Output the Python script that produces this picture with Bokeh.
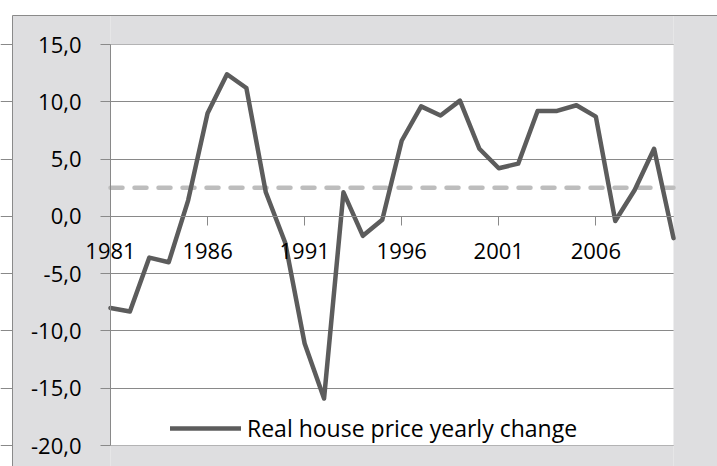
from bokeh.plotting import figure
from bokeh.models import FixedTicker, Legend, LegendItem, Range1d
from bokeh.embed import file_html
from bokeh.resources import INLINE

years = list(range(1981, 2011))
change = [-8.0, -8.3, -3.6, -4.0, 1.4, 9.0, 12.4, 11.2, 2.1, -2.3,
          -11.1, -15.9, 2.1, -1.7, -0.3, 6.6, 9.6, 8.8, 10.1, 5.9,
          4.2, 4.6, 9.2, 9.2, 9.7, 8.7, -0.4, 2.3, 5.9, -1.9]
avg_change = 2.5
series_label = "Real house price yearly change"
x_ticks = [1981, 1986, 1991, 1996, 2001, 2006]
y_ticks = [-20, -15, -10, -5, 0, 5, 10, 15]
y_labels = {v: f"{v:.1f}".replace(".", ",") for v in y_ticks}

FONT = "Open Sans"
GRAY_BG = "#DEDEE0"
GRID = "#898989"

# canvas layout (pixels): the frame fills the whole canvas
W, H = 717, 466
PL, PR, PT, PB = 110, 673, 44, 445        # plot-area edges on the canvas
BL, BT = 12, 15                           # outer chart border
x0, x1 = years[0], years[-1]
y0, y1 = y_ticks[0], y_ticks[-1]
sx = (x1 - x0) / (PR - PL)
sy = (y1 - y0) / (PB - PT)
xr = Range1d(x0 - PL * sx, x1 + (W - PR) * sx)
yr = Range1d(y0 - (H - PB) * sy, y1 + PT * sy)

p = figure(width=W, height=H, output_backend="svg", toolbar_location=None,
           x_range=xr, y_range=yr, min_border=0)
p.border_fill_color = "white"
p.background_fill_color = "white"
p.outline_line_color = None

# grey chart panel around the white plot area
bx = xr.start + BL * sx
by = yr.end - BT * sy
far_x, far_y = xr.end + 1, yr.start - 1
p.quad(left=[bx, x1, x0, x0], right=[x0, far_x, x1, x1],
       bottom=[far_y, far_y, y1, far_y], top=[by, by, by, y0],
       fill_color=GRAY_BG, line_color=None)
p.quad(left=[bx], right=[far_x], bottom=[far_y], top=[by],
       fill_alpha=0, line_color="#8A8A8A", line_width=1)

# y axis at left edge of plot area
p.yaxis.fixed_location = x0
p.yaxis.bounds = (y0, y1)
p.yaxis.ticker = FixedTicker(ticks=y_ticks)
p.yaxis.major_label_overrides = y_labels
p.yaxis.major_label_text_font = FONT
p.yaxis.major_label_text_font_size = "22px"
p.yaxis.major_label_text_color = "black"
p.yaxis.axis_line_color = GRID
p.yaxis.major_tick_line_color = GRID
p.yaxis.major_tick_out = 10
p.yaxis.major_tick_in = 0
p.yaxis.minor_tick_line_color = None
p.yaxis.major_label_standoff = 19

# x axis at y = 0
p.xaxis.fixed_location = 0
p.xaxis.bounds = (x0, x1)
p.xaxis.ticker = FixedTicker(ticks=x_ticks)
p.xaxis.major_label_overrides = {v: str(v) for v in x_ticks}
p.xaxis.major_label_text_font = FONT
p.xaxis.major_label_text_font_size = "22px"
p.xaxis.major_label_text_color = "black"
p.xaxis.axis_line_color = GRID
p.xaxis.major_tick_line_color = GRID
p.xaxis.major_tick_out = 9
p.xaxis.major_tick_in = 0
p.xaxis.minor_tick_line_color = None
p.xaxis.major_label_standoff = 18

p.xgrid.grid_line_color = None
p.ygrid.ticker = FixedTicker(ticks=y_ticks)
p.ygrid.bounds = (x0, x1)
p.ygrid.grid_line_color = GRID
p.ygrid.grid_line_width = 1

p.line(years, [avg_change] * len(years), line_color="#BDBDBD", line_width=4.5,
       line_dash="12 12", line_cap="round")
r = p.line(years, change, line_color="#5C5C5C", line_width=4.5, line_join="round",
           line_cap="round")

legend = Legend(items=[LegendItem(label=series_label, renderers=[r])],
                location=(170, 22), orientation="horizontal",
                padding=0, margin=0, spacing=0, glyph_width=71, label_standoff=6,
                label_text_font=FONT, label_text_font_size="23px",
                label_text_color="black", border_line_color=None,
                background_fill_alpha=0)
p.add_layout(legend, "center")

open("out.html", "w").write(file_html(p, INLINE))
